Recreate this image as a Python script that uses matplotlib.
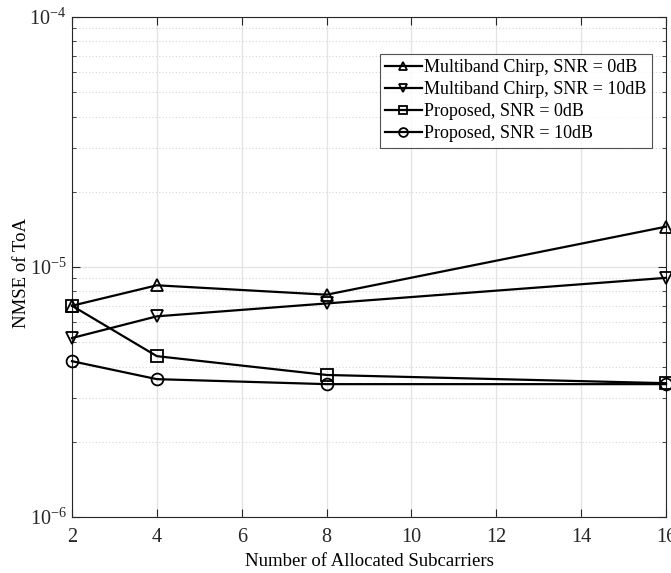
import matplotlib
matplotlib.use("Agg")
import matplotlib.pyplot as plt
from matplotlib.ticker import LogLocator, NullFormatter

# values
subcarriers = [2, 4, 8, 16]
chirp_0db = [7.0e-6, 8.45e-6, 7.75e-6, 1.45e-5]
chirp_10db = [5.2e-6, 6.35e-6, 7.15e-6, 9.05e-6]
proposed_0db = [7.0e-6, 4.4e-6, 3.7e-6, 3.43e-6]
proposed_10db = [4.2e-6, 3.56e-6, 3.4e-6, 3.4e-6]
x_ticks = [2, 4, 6, 8, 10, 12, 14, 16]

plt.rcParams["font.family"] = ["Liberation Serif", "DejaVu Serif"]
plt.rcParams["mathtext.fontset"] = "stix"

fig = plt.figure(figsize=(6.71, 5.73), dpi=100)
ax = fig.add_axes([0.1073, 0.0977, 0.8852, 0.8726])

series = [
    (chirp_0db, "^", "Multiband Chirp, SNR = 0dB"),
    (chirp_10db, "v", "Multiband Chirp, SNR = 10dB"),
    (proposed_0db, "s", "Proposed, SNR = 0dB"),
    (proposed_10db, "o", "Proposed, SNR = 10dB"),
]
for vals, mk, lab in series:
    ax.plot(subcarriers, vals, color="black", lw=1.6, marker=mk,
            markersize=8.5, markerfacecolor="none", markeredgewidth=1.3,
            label=lab, clip_on=False, zorder=3)

ax.set_yscale("log")
ax.set_ylim(1e-6, 1e-4)
ax.set_xlim(2, 16)
ax.set_xticks(x_ticks)
ax.yaxis.set_minor_locator(LogLocator(base=10, subs=range(2, 10)))
ax.yaxis.set_minor_formatter(NullFormatter())

ax.grid(True, which="major", color="#e3e3e3", lw=0.9, ls="-")
ax.grid(True, which="minor", axis="y", color="#d6d6d6", lw=0.8, ls=(0, (1, 2)))
ax.set_axisbelow(True)

ax.tick_params(which="both", direction="in", top=True, right=True,
               labelsize=14.5, colors="#262626")
ax.tick_params(axis="x", pad=8)
ax.tick_params(axis="y", pad=4)
ax.tick_params(which="major", length=6)
ax.tick_params(which="minor", length=3)
for sp in ax.spines.values():
    sp.set_color("#262626")
    sp.set_linewidth(0.8)

ax.set_xlabel("Number of Allocated Subcarriers", fontsize=13.5, labelpad=4)
ax.set_ylabel("NMSE of ToA", fontsize=13.5)
ax.yaxis.set_label_coords(-0.07, 0.488)

leg = ax.legend(loc="upper right", bbox_to_anchor=(0.9765, 0.927), fontsize=13,
                frameon=True, fancybox=False, edgecolor="#262626",
                handlelength=2.0, handletextpad=0.15, borderpad=0.3,
                labelspacing=0.28, borderaxespad=0.0, markerscale=0.75)
leg.get_frame().set_linewidth(0.8)

fig.savefig("out.png", dpi=100)
